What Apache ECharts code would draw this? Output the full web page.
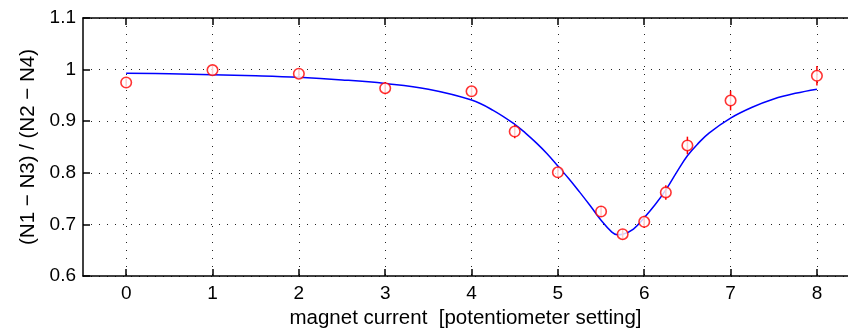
<!DOCTYPE html>
<html lang="en">
<head>
  <meta charset="utf-8">
  <title>Polarisation dip</title>
  <script src="https://cdn.jsdelivr.net/npm/echarts@6/dist/echarts.min.js"></script>
  <style>
    body { margin: 0; background: white; overflow: hidden; }
    #chart { width: 848px; height: 328px; }
  </style>
</head>
<body>
  <div id="chart"></div>
  <script>
    // --- Data.

    // Measured points: potentiometer setting, ratio, error.
    const MEAS_X = [0, 1, 2, 3, 4, 4.5, 5, 5.5, 5.75, 6, 6.25, 6.5, 7, 8];
    const MEAS_Y = [0.975, 0.999, 0.992, 0.964, 0.958, 0.880, 0.801, 0.725, 0.681, 0.705, 0.762, 0.853, 0.940, 0.988];
    const MEAS_ERR = [0.008, 0.008, 0.008, 0.012, 0.010, 0.013, 0.010, 0.010, 0.010, 0.012, 0.014, 0.017, 0.019, 0.019];

    // Fitted curve (denser where it bends).
    const FIT_X = [0, 0.5, 1, 1.5, 2, 2.5, 3, 3.5, 4, 4.25, 4.5, 4.625, 4.75, 4.875, 5, 5.125, 5.25, 5.375, 5.5, 5.625, 5.6875, 5.75, 5.875, 6, 6.125, 6.25, 6.375, 6.5, 6.625, 6.75, 7, 7.25, 7.5, 7.75, 8];
    const FIT_Y = [0.993, 0.992, 0.990, 0.988, 0.985, 0.980, 0.973, 0.962, 0.941, 0.921, 0.894, 0.877, 0.858, 0.837, 0.813, 0.789, 0.763, 0.736, 0.708, 0.685, 0.680, 0.681, 0.691, 0.713, 0.738, 0.767, 0.801, 0.833, 0.857, 0.877, 0.906, 0.927, 0.943, 0.954, 0.962];

    const X_TICKS = [0, 1, 2, 3, 4, 5, 6, 7, 8];

    const FONT = 'Liberation Sans, Arial, Helvetica, sans-serif';

    const chart = echarts.init(document.getElementById('chart'));

    // Dotted grid, like the old matlab style.
    const gridLine = { show: true, lineStyle: { color: '#222', type: [1, 7], width: 1 } };
    const blackLine = { color: '#000', width: 1.5 };
    const tick = { inside: true, length: 7, lineStyle: blackLine, customValues: X_TICKS };

    chart.setOption({
      animation: false,
      // The right edge of the frame is cut off in the original picture.
      // outerBoundsMode none: keep the grid where it is, don't shrink it for labels.
      grid: { left: 83, top: 18, width: 765, height: 258, outerBoundsMode: 'none' },
      xAxis: [{
        type: 'value', min: -0.5, max: 8.36,
        name: 'magnet current  [potentiometer setting]',
        nameLocation: 'middle', nameGap: 28,
        nameTextStyle: { fontFamily: FONT, fontSize: 20.5, color: '#000' },
        axisLine: { onZero: false, lineStyle: blackLine },
        axisTick: tick,
        axisLabel: { fontFamily: FONT, fontSize: 19, color: '#000', margin: 8, customValues: X_TICKS },
        splitLine: gridLine
      }, {
        type: 'value', min: -0.5, max: 8.36, position: 'top',
        axisLine: { show: true, onZero: false, lineStyle: blackLine },
        axisTick: tick,
        axisLabel: { show: false },
        splitLine: { show: false }
      }],
      yAxis: {
        type: 'value', min: 0.6, max: 1.1, interval: 0.1,
        name: '(N1 \u2212 N3) / (N2 \u2212 N4)',
        nameLocation: 'middle', nameGap: 41,
        nameTextStyle: { fontFamily: FONT, fontSize: 20.5, color: '#000' },
        axisLine: { show: true, onZero: false, lineStyle: blackLine },
        axisTick: { show: true, inside: true, length: 7, lineStyle: blackLine },
        axisLabel: { fontFamily: FONT, fontSize: 19, color: '#000', margin: 7,
          formatter: v => String(Math.round(v * 10) / 10) },
        splitLine: gridLine
      },
      series: [
        {
          // Fit curve.
          type: 'line',
          data: FIT_X.map((x, i) => [x, FIT_Y[i]]),
          smooth: 0.4,
          showSymbol: false,
          lineStyle: { color: '#0000ff', width: 1.5 },
          z: 3
        },
        {
          // Error bars.
          type: 'custom',
          data: MEAS_X.map((x, i) => [x, MEAS_Y[i], MEAS_ERR[i]]),
          renderItem: (params, api) => {
            const lo = api.coord([api.value(0), api.value(1) - api.value(2)]);
            const hi = api.coord([api.value(0), api.value(1) + api.value(2)]);
            return {
              type: 'line',
              shape: { x1: lo[0], y1: lo[1], x2: hi[0], y2: hi[1] },
              style: { stroke: '#ff0000', lineWidth: 1.5 }
            };
          },
          z: 4
        },
        {
          // Measured points.
          type: 'scatter',
          data: MEAS_X.map((x, i) => [x, MEAS_Y[i]]),
          symbol: 'circle',
          symbolSize: 10.5,
          itemStyle: { color: '#fff', borderColor: '#ff0000', borderWidth: 1.6 },
          z: 5
        }
      ]
    });
  </script>
</body>
</html>
